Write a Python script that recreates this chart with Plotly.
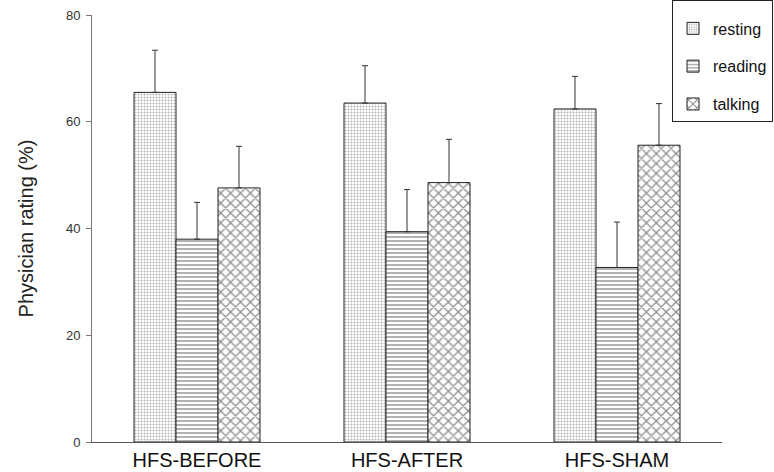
import plotly.graph_objects as go

categories = ["HFS-BEFORE", "HFS-AFTER", "HFS-SHAM"]
series_names = ["resting", "reading", "talking"]
resting = [65.5, 63.5, 62.4]
resting_err = [7.9, 7.0, 6.1]
reading = [38.0, 39.4, 32.7]
reading_err = [6.9, 7.9, 8.5]
talking = [47.6, 48.6, 55.6]
talking_err = [7.8, 8.1, 7.8]
y_ticks = [0, 20, 40, 60, 80]

values = [resting, reading, talking]
errors = [resting_err, reading_err, talking_err]
patterns = [
    dict(shape=".", size=3, solidity=0.35, fgcolor="#666666", bgcolor="white"),
    dict(shape="-", size=4, solidity=0.35, fgcolor="#222222", bgcolor="white"),
    dict(shape="x", size=7, solidity=0.35, fgcolor="#222222", bgcolor="white"),
]

fig = go.Figure()
for i, name in enumerate(series_names):
    fig.add_trace(go.Bar(
        x=categories, y=values[i], name=name, legendgroup=name,
        marker=dict(color="white", pattern=patterns[i],
                    line=dict(color="#222222", width=1)),
        error_y=dict(type="data", array=errors[i], arrayminus=[0, 0, 0],
                     symmetric=False, color="#333333", thickness=1, width=3),
    ))

fig.update_layout(
    width=774, height=472,
    margin=dict(l=92, r=52, t=15, b=30, autoexpand=False),
    paper_bgcolor="white", plot_bgcolor="white",
    barmode="group", bargap=0.4, bargroupgap=0,
    font=dict(family="Liberation Sans, Arial, sans-serif", color="#222222"),
    showlegend=True,
    legend=dict(x=1.081, y=1.035, xanchor="right", yanchor="top",
                bordercolor="#222222", borderwidth=1, bgcolor="white",
                font=dict(size=16, color="#111111"), tracegroupgap=14,
                itemwidth=30,
                title=dict(text=" ", font=dict(size=8))),
    xaxis=dict(showline=True, linecolor="#555555", linewidth=1,
               ticks="", tickfont=dict(size=20, color="#111111"),
               range=[-0.5, 2.5]),
    yaxis=dict(range=[0, 80], tickvals=y_ticks, showgrid=False, zeroline=False,
               showline=True, linecolor="#777777", linewidth=1,
               ticks="outside", ticklen=5, tickcolor="#777777",
               ticklabelstandoff=3,
               tickfont=dict(size=13, color="#333333"),
               title=dict(text="Physician rating (%)", font=dict(size=20, color="#222222"),
                          standoff=26)),
)

fig.write_html("out.html", config={"displayModeBar": False},
               post_script="document.body.style.margin='0';document.body.style.overflow='hidden';")
